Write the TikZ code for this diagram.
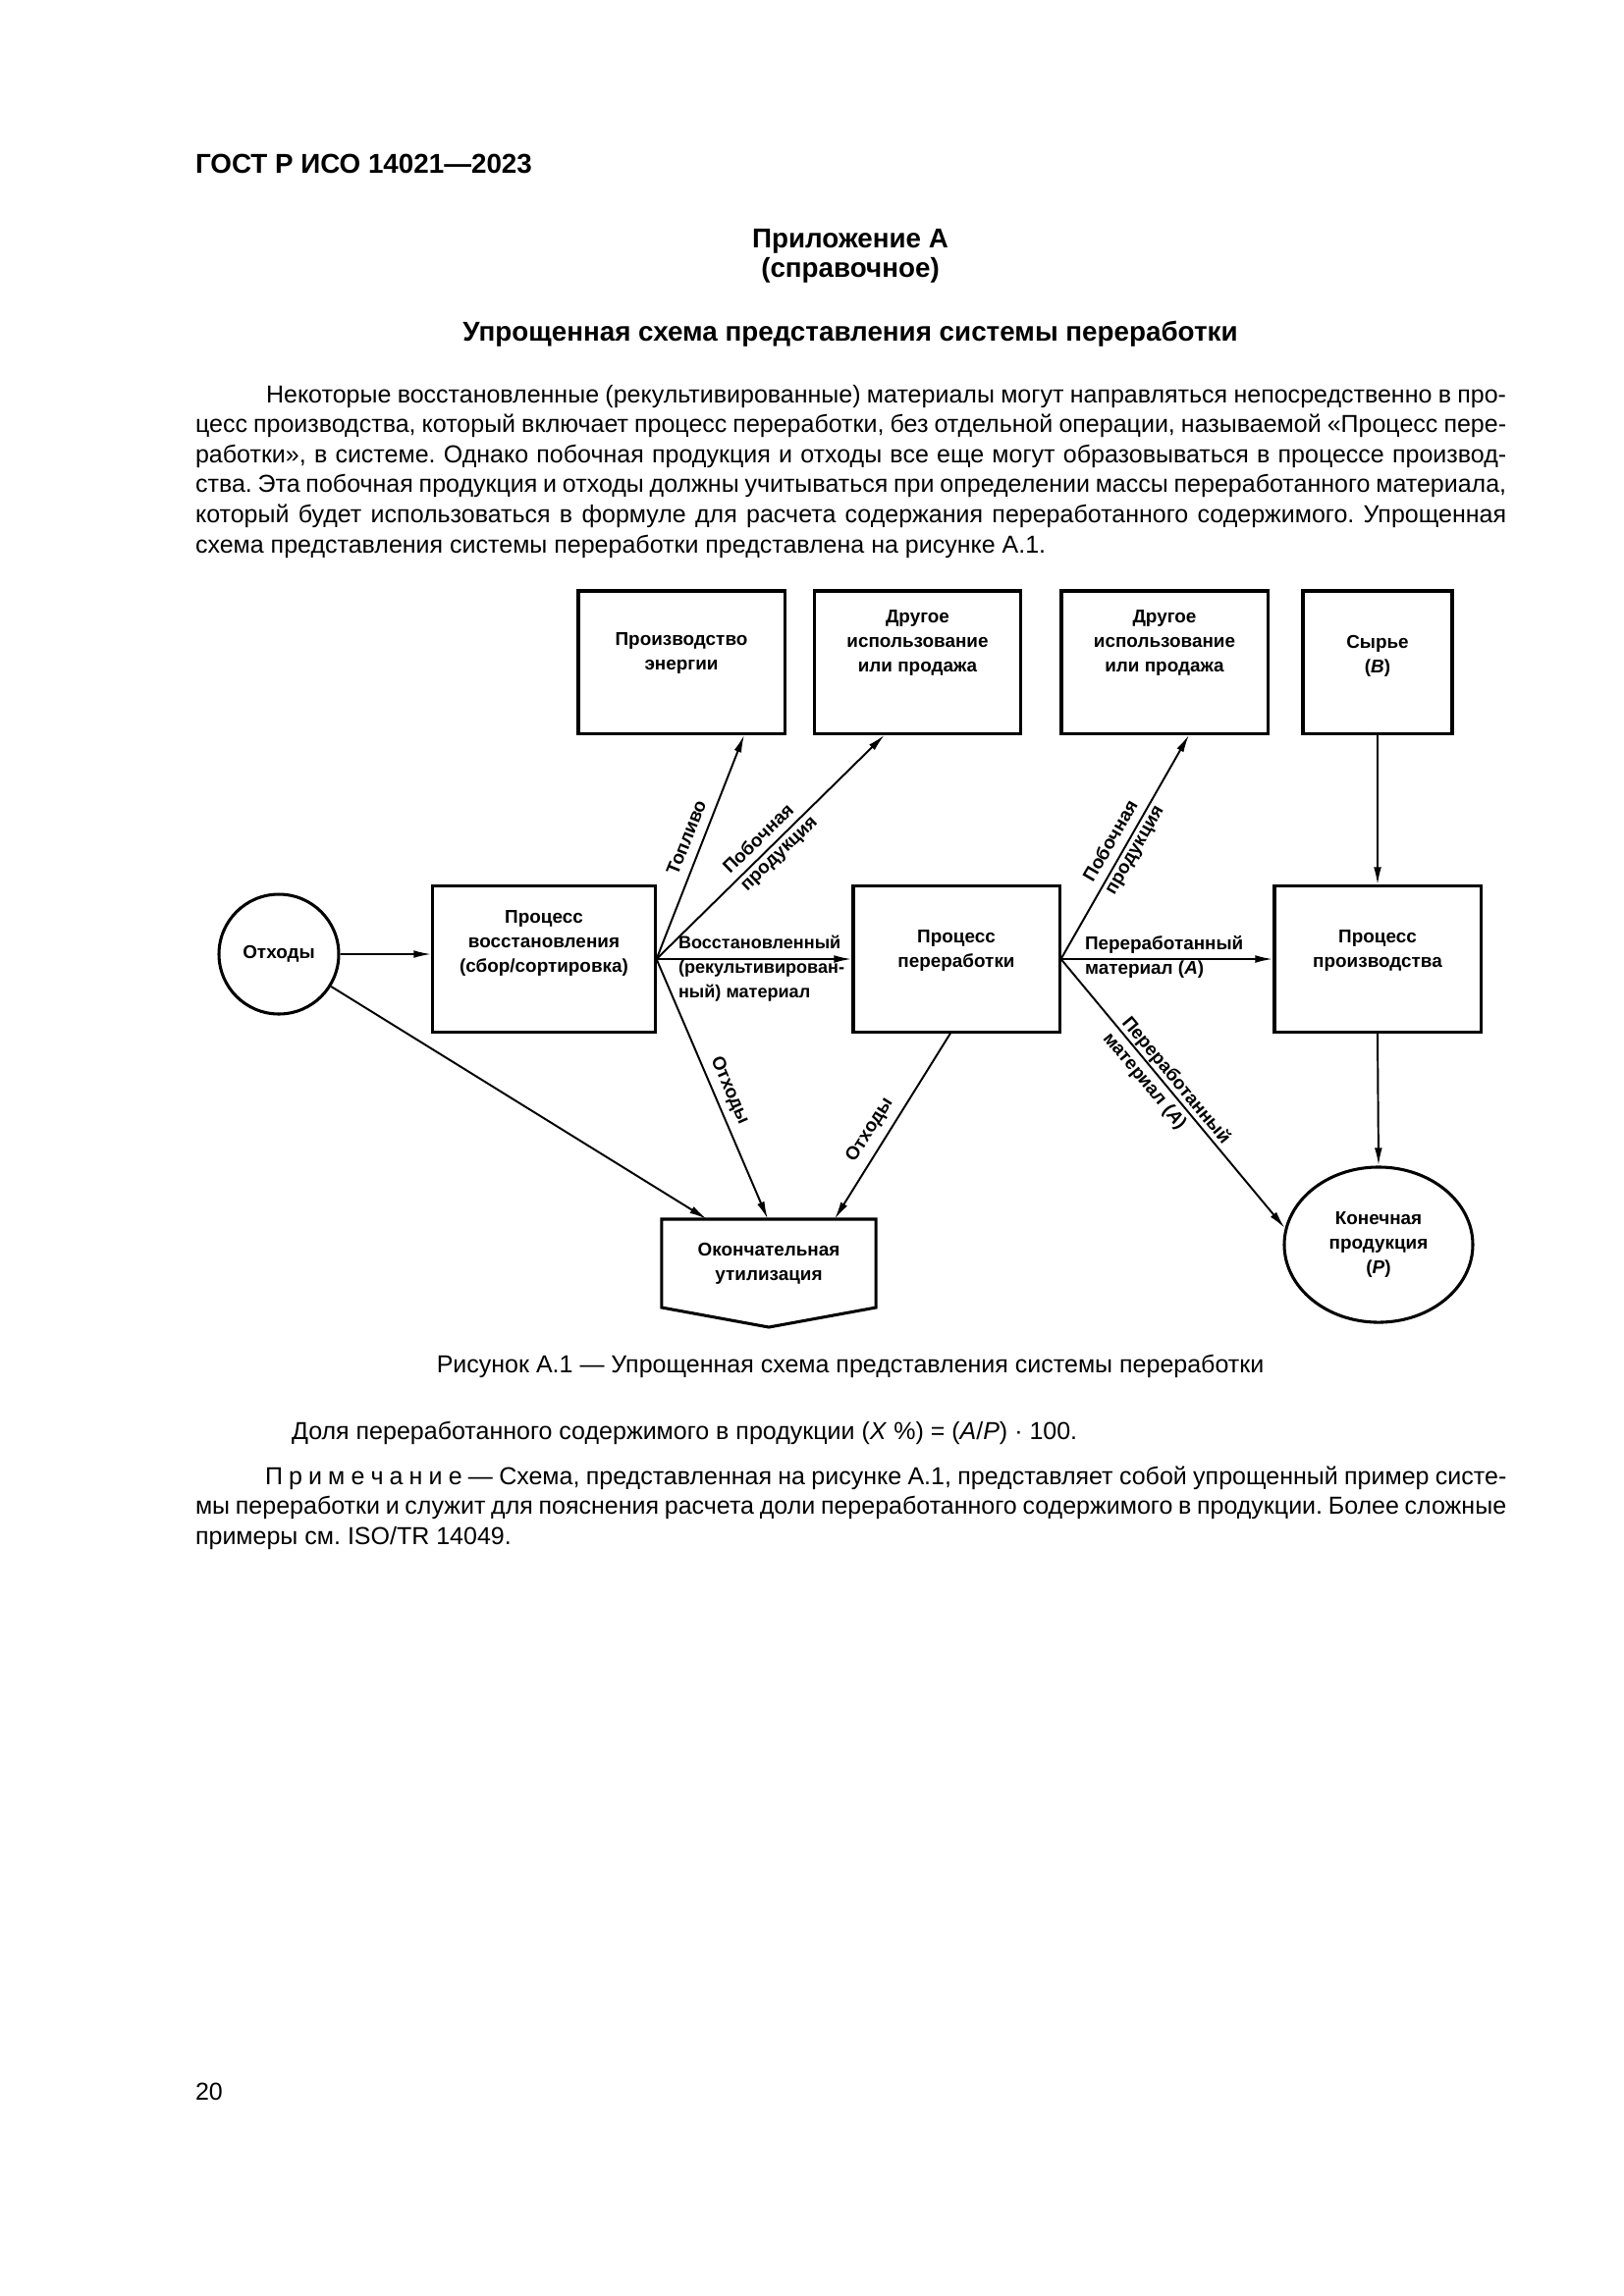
\documentclass[tikz,border=0pt]{standalone}
\usepackage{fontspec}
\setmainfont{Liberation Sans}
\usetikzlibrary{arrows.meta,calc,shapes.geometric}
\frenchspacing

\tikzset{every picture/.style={line width=0.75pt}}
\tikzset{
  blk/.style={draw, line width=1.1pt, inner sep=0pt, minimum width=75.6pt, minimum height=52.2pt},
  rnd/.style={draw, line width=1.1pt, ellipse, inner sep=0pt, align=center, font=\fontsize{6.8}{9}\selectfont\bfseries},
  dtxt/.style={font=\fontsize{6.8}{9}\selectfont\bfseries, align=center, inner sep=0pt},
  ltxt/.style={font=\fontsize{6.8}{9}\selectfont\bfseries, align=left, inner sep=0pt},
  flow/.style={-{Latex[length=6.5pt,width=2.8pt]}, line width=0.7pt},
  body/.style={font=\fontsize{9}{11}\selectfont, anchor=base west, inner sep=0pt},
  head/.style={font=\fontsize{10}{12}\selectfont\bfseries, inner sep=0pt},
}

\begin{document}
\begin{tikzpicture}[x=0.3599pt,y=0.3599pt,yscale=-1,xscale=1]
\useasboundingbox[fill=white] (0,0) rectangle (1654,2339);

% Text Node
\node[head, anchor=base west] (gost) at (198,176) {ГОСТ Р ИСО 14021—2023};
\node[head, anchor=base] (app) at (866,252) {Приложение А};
\node[head, anchor=base] (inf) at (866,282) {(справочное)};
\node[head, anchor=base] (ttl) at (866,347) {Упрощенная схема представления системы переработки};

% Text Node
\node[body] (p1) at (270,410) {\makebox[454.6pt][s]{Некоторые восстановленные (рекультивированные) материалы могут направляться непосредственно в про-}};
\node[body] (p2) at (198,440.6) {\makebox[480.5pt][s]{цесс производства, который включает процесс переработки, без отдельной операции, называемой «Процесс пере-}};
\node[body] (p3) at (198,471.2) {\makebox[480.5pt][s]{работки», в системе. Однако побочная продукция и отходы все еще могут образовываться в процессе производ-}};
\node[body] (p4) at (198,501.8) {\makebox[480.5pt][s]{ства. Эта побочная продукция и отходы должны учитываться при определении массы переработанного материала,}};
\node[body] (p5) at (198,532.4) {\makebox[480.5pt][s]{который будет использоваться в формуле для расчета содержания переработанного содержимого. Упрощенная}};
\node[body] (p6) at (198,563) {схема представления системы переработки представлена на рисунке А.1.};

%Shape: Rectangle
\node[blk] (energy) at (694,674.5) {};
\node[blk] (other1) at (934.5,674.5) {};
\node[blk] (other2) at (1186,674.5) {};
\node[blk, minimum width=54.7pt] (raw) at (1403,674.5) {};
\node[blk, minimum width=81.4pt, minimum height=53.3pt] (recov) at (554,977) {};
\node[blk, minimum height=53.3pt] (recyc) at (974,977) {};
\node[blk, minimum height=53.3pt] (prod) at (1403,977) {};
%Shape: Circle
\node[rnd, minimum width=43.9pt, minimum height=43.9pt] (waste) at (284,972) {Отходы};
\node[rnd, minimum width=69.1pt, minimum height=56.9pt] (final) at (1404,1268) {Конечная\\продукция\\(\textit{P})};
%Shape: Pentagon
\node[dtxt, minimum width=78.5pt, minimum height=32.4pt, outer sep=0pt] (disp) at (783,1287) {Окончательная\\утилизация};
\draw[line width=1.1pt] (disp.north west) -- (disp.north east) -- (disp.south east) -- ($(disp.south)+(0,20)$) -- (disp.south west) -- cycle;

% Text Node
\node[dtxt] (energytxt) at (694,665) {Производство\\энергии};
\node[dtxt] (other1txt) at (934.5,655) {Другое\\использование\\или продажа};
\node[dtxt] (other2txt) at (1186,655) {Другое\\использование\\или продажа};
\node[dtxt] (rawtxt) at (1403,668) {Сырье\\(\textit{B})};
\node[dtxt] (recovtxt) at (554,961) {Процесс\\восстановления\\(сбор/сортировка)};
\node[dtxt] (recyctxt) at (974,968) {Процесс\\переработки};
\node[dtxt] (prodtxt) at (1403,968) {Процесс\\производства};

%Straight Lines
\draw[flow] (waste) -- (recov.west |- waste);
\draw[flow] (recov.east) -- ($(energy.south)+(64,0)$);
\draw[flow] (recov.east) -- ($(other1.south)+(-33.5,0)$);
\draw[flow] (recov.east) -- (recyc.west);
\draw[flow] (recov.east) -- ($(disp.north)+(-1,0)$);
\draw[flow] (waste) -- ($(disp.north)+(-63,0)$);
\draw[flow] (recyc.east) -- ($(other2.south)+(25,0)$);
\draw[flow] (recyc.east) -- (prod.west);
\draw[flow] (recyc.east) -- (final.170);
\draw[flow] ($(recyc.south)+(-6,0)$) -- ($(disp.north)+(67,0)$);
\draw[flow] (raw.south) -- (prod.north);
\draw[flow] (prod.south) -- (final.north);

% Text Node
\node[dtxt, rotate=68.2] (fuel) at (699,853) {Топливо};
\node[ltxt, rotate=44.1] (byp1) at (785,861) {Побочная\\продукция};
\node[ltxt, rotate=59.8] (byp2) at (1145,860) {Побочная\\продукция};
\node[ltxt, anchor=west, font=\fontsize{6.5}{9}\selectfont\bfseries] (recmat) at (690,987) {Восстановленный\\(рекультивирован-\\ный) материал};
\node[ltxt, anchor=west] (rmat1) at (1104,975) {Переработанный\\материал (\textit{A})};
\node[ltxt, rotate=-50.3] (rmat2) at (1188,1109) {Переработанный\\материал (\textit{A})};
\node[dtxt, rotate=-66.7] (waste1) at (743,1111) {Отходы};
\node[dtxt, rotate=57.9] (waste2) at (886,1151) {Отходы};

% Text Node
\node[body, anchor=base] (cap) at (866,1398) {Рисунок А.1 — Упрощенная схема представления системы переработки};
\node[body] (frm) at (296,1466) {Доля переработанного содержимого в продукции (\textit{X} \%) = (\textit{A}/\textit{P}) · 100.};
\node[body] (n1) at (269,1512) {\makebox[455pt][s]{П\kern2.2pt р\kern2.2pt и\kern2.2pt м\kern2.2pt е\kern2.2pt ч\kern2.2pt а\kern2.2pt н\kern2.2pt и\kern2.2pt е — Схема, представленная на рисунке А.1, представляет собой упрощенный пример систе-}};
\node[body] (n2) at (198,1542.6) {\makebox[480.5pt][s]{мы переработки и служит для пояснения расчета доли переработанного содержимого в продукции. Более сложные}};
\node[body] (n3) at (198,1573.2) {примеры см. ISO/TR 14049.};
\node[body] (pg) at (198,2139) {20};

\end{tikzpicture}
\end{document}
